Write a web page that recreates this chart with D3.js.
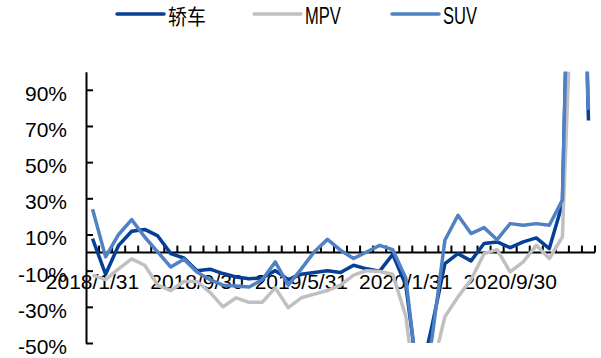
<!DOCTYPE html>
<html>
<head>
<meta charset="utf-8">
<script src="https://cdn.jsdelivr.net/npm/d3@7"></script>
<style>
  body { margin: 0; background: #fff; }
  svg { display: block; }
  text { font-family: "Liberation Sans", Arial, sans-serif; fill: #000; }
</style>
</head>
<body>
<svg id="chart" width="601" height="358"></svg>
<script>
// month-end categories, 2018/1 .. 2021/3
var months = ['2018/1/31','2018/2/28','2018/3/31','2018/4/30','2018/5/31','2018/6/30',
              '2018/7/31','2018/8/31','2018/9/30','2018/10/31','2018/11/30','2018/12/31',
              '2019/1/31','2019/2/28','2019/3/31','2019/4/30','2019/5/31','2019/6/30',
              '2019/7/31','2019/8/31','2019/9/30','2019/10/31','2019/11/30','2019/12/31',
              '2020/1/31','2020/2/29','2020/3/31','2020/4/30','2020/5/31','2020/6/30',
              '2020/7/31','2020/8/31','2020/9/30','2020/10/31','2020/11/30','2020/12/31',
              '2021/1/31','2021/2/28','2021/3/31'];

// YoY growth, %
var sedan = [7.7, -12, 4, 11.8, 12.8, 9.2, -0.6, -3, -10, -9.2, -11.6, -13.5, -14.5,
             -14, -10, -15, -12, -11, -10, -11, -7, -9, -10.3, -1, -18, -73, -41,
             -6.1, -0.6, -4.6, 5, 5.9, 2.7, 5.9, 8.1, 2.2, 27, 330, 73];
var mpv   = [-12.5, -15, -9, -3.5, -7, -18, -21, -16, -16, -22, -30, -25, -27.5,
             -27.5, -19.5, -30.5, -25, -23, -21, -18, -12.5, -10, -10.5, -12, -35, -90, -65,
             -35.5, -24.5, -15, -0.6, 1.6, -10.7, -5.2, 4, -3.3, 8.6, 200, 85];
var suv   = [24, -2.4, 10, 18.2, 8.6, 0.3, -8, -3.7, -10.7, -15, -18, -18.5, -19,
             -15, -5.2, -18, -9, 0.5, 7.3, 1.3, -3.3, 0.3, 4, 1.6, -14, -75, -48,
             6.8, 20.6, 10.5, 13.8, 7.1, 16, 15.1, 16, 15.1, 29, 330, 79];

var seriesNames = ['轿车', 'MPV', 'SUV'];
var yTicks = [-50, -30, -10, 10, 30, 50, 70, 90];
var labelEvery = 8;

var colors = {'轿车': '#053f96', 'MPV': '#c0c0c0', 'SUV': '#4f81c4'};
var seriesData = {'轿车': sedan, 'MPV': mpv, 'SUV': suv};

var svg = d3.select('#chart');

var x = d3.scaleBand().domain(months).range([86, 595]).padding(0);
var y = d3.scaleLinear().domain([-50, 100]).range([343, 71.7]);
var cx = d => x(d) + x.bandwidth() / 2;

// clip for the plot area
svg.append('defs').append('clipPath').attr('id', 'plot-clip')
    .append('rect')
    .attr('x', 80).attr('y', y(100))
    .attr('width', 521).attr('height', y(-50) - y(100));

// y axis
var yAxis = d3.axisLeft(y)
    .tickValues(yTicks)
    .tickSize(-7)
    .tickSizeOuter(0)
    .tickPadding(19)
    .tickFormat(d => d + '%');

var gy = svg.append('g')
    .attr('transform', 'translate(' + x.range()[0] + ',0)')
    .call(yAxis);
gy.select('.domain').attr('stroke', '#000').attr('stroke-width', 2);
gy.selectAll('.tick line').attr('stroke', '#000').attr('stroke-width', 2);
gy.selectAll('.tick text')
    .attr('dy', '0.5em')
    .style('font-family', '"Liberation Sans", Arial, sans-serif')
    .style('font-size', '21px');

// x axis at zero
var gx = svg.append('g').attr('class', 'x-axis');
gx.append('line')
    .attr('x1', x.range()[0]).attr('x2', x.range()[1])
    .attr('y1', y(0)).attr('y2', y(0))
    .attr('stroke', '#000').attr('stroke-width', 2);

var bounds = months.map(m => x(m)).concat([x.range()[1]]);
gx.selectAll('line.tick')
    .data(bounds.slice(1))
    .enter().append('line')
    .attr('class', 'tick')
    .attr('x1', d => d).attr('x2', d => d)
    .attr('y1', y(0)).attr('y2', y(0) - 7)
    .attr('stroke', '#000').attr('stroke-width', 2);

// lines
var line = d3.line()
    .x((d, i) => cx(months[i]))
    .y(d => y(d));

svg.append('g')
    .attr('clip-path', 'url(#plot-clip)')
    .selectAll('path.series')
    .data(seriesNames)
    .enter().append('path')
    .attr('class', 'series')
    .attr('d', name => line(seriesData[name]))
    .attr('fill', 'none')
    .attr('stroke', name => colors[name])
    .attr('stroke-width', 3.5)
    .attr('stroke-linejoin', 'round');

// x labels (drawn over the lines)
gx.selectAll('text')
    .data(months.filter((m, i) => i % labelEvery === 0))
    .enter().append('text')
    .attr('x', d => cx(d))
    .attr('y', 289)
    .attr('text-anchor', 'middle')
    .style('font-size', '21px')
    .text(d => d);

// legend
var legendX = [117, 254, 392];
var legendTextScale = {'轿车': 0.9, 'MPV': 0.72, 'SUV': 0.72};
var leg = svg.append('g').attr('class', 'legend')
    .selectAll('g')
    .data(seriesNames)
    .enter().append('g')
    .attr('transform', (d, i) => 'translate(' + legendX[i] + ',0)');

leg.append('line')
    .attr('x1', 0).attr('x2', 47)
    .attr('y1', 14).attr('y2', 14)
    .attr('stroke', d => colors[d])
    .attr('stroke-width', 3.5)
    .attr('stroke-linecap', 'round');

leg.append('text')
    .attr('transform', d => 'translate(51,24) scale(' + legendTextScale[d] + ',1)')
    .style('font-family', d => d === '轿车'
        ? '"Noto Sans CJK SC", sans-serif'
        : '"Liberation Sans", Arial, sans-serif')
    .style('font-size', d => d === '轿车' ? '21px' : '23px')
    .text(d => d);
</script>
</body>
</html>
